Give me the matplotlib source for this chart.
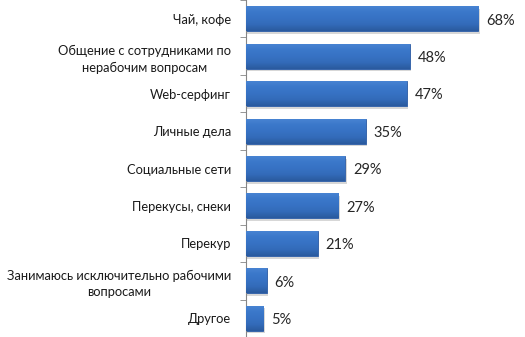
import numpy as np
import matplotlib.pyplot as plt
from matplotlib.colors import LinearSegmentedColormap

categories = [
    'Чай, кофе',
    'Общение с сотрудниками по\nнерабочим вопросам',
    'Web-серфинг',
    'Личные дела',
    'Социальные сети',
    'Перекусы, снеки',
    'Перекур',
    'Занимаюсь исключительно рабочими\nвопросами',
    'Другое',
]
values = [68, 48, 47, 35, 29, 27, 21, 6, 5]
value_labels = ['68%', '48%', '47%', '35%', '29%', '27%', '21%', '6%', '5%']

plt.rcParams['font.family'] = ['Lato', 'DejaVu Sans']

fig = plt.figure(figsize=(5.25, 3.37), dpi=100)
ax = fig.add_axes([0.469, 0.0, 0.52, 1.0])

y = np.arange(len(categories))
height = 0.67

# вертикальный градиент для столбцов
grad = np.linspace(0, 1, 64).reshape(-1, 1)
cmap = LinearSegmentedColormap.from_list('bar', ['#4a85d4', '#3b78ca', '#3772c4', '#336bb9', '#2a5a9e'])

for yi, v in zip(y, values):
    # тень
    ax.barh(yi + 0.07, v + 0.4, height=height, left=0, color='#b0b0b0', alpha=0.5, zorder=1)
    bar = ax.barh(yi, v, height=height, color='#3772c4', edgecolor='#2d5da6', linewidth=0.6, zorder=2)[0]
    im = ax.imshow(grad, cmap=cmap, aspect='auto', zorder=3,
                   extent=[0, v, yi + height / 2, yi - height / 2])
    im.set_clip_path(bar)

for yi, v, lab in zip(y, values, value_labels):
    ax.text(v + 2.3, yi + 0.05, lab, va='center', ha='left', fontsize=10.5, color='#262626')

ax.set_xlim(0, 80)
ax.set_ylim(len(categories) - 0.5, -0.5)
ax.set_yticks(y)
ax.set_yticklabels(categories, fontsize=9.3, multialignment='center', color='#1a1a1a',
                   linespacing=1.45)
ax.tick_params(axis='y', length=0, pad=11)
ax.set_yticks(np.arange(-0.5, len(categories), 1), minor=True)
ax.tick_params(axis='y', which='minor', length=4, color='#868686')
ax.set_xticks([])
for s in ['top', 'right', 'bottom']:
    ax.spines[s].set_visible(False)
ax.spines['left'].set_color('#868686')

fig.savefig('out.png', dpi=100)
